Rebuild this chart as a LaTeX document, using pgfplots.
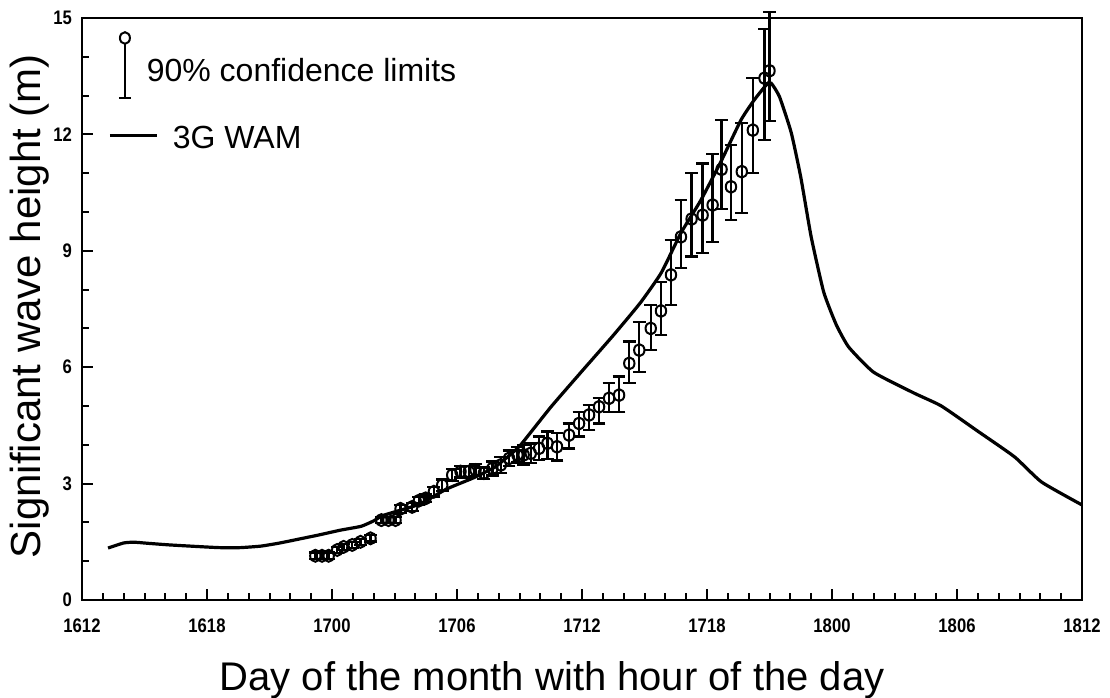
\documentclass[border=0pt]{standalone}
\usepackage{fontspec}
\setmainfont{Liberation Sans}
\newfontfamily\tickfont[FakeStretch=0.85]{Liberation Sans}
\usepackage{pgfplots}
\pgfplotsset{compat=1.18}
\usepackage{pgfplotstable}

% observed wave heights with 90% confidence limits (hours after 16th 12:00)
\pgfplotstableread{
h v ep em
11.20 1.14 0.08 0.08
11.52 1.14 0.08 0.08
11.84 1.14 0.08 0.08
12.25 1.29 0.08 0.08
12.56 1.37 0.08 0.08
12.97 1.42 0.08 0.08
13.37 1.50 0.08 0.08
13.85 1.59 0.08 0.08
14.37 2.06 0.08 0.08
14.71 2.06 0.08 0.08
15.05 2.06 0.08 0.08
15.29 2.35 0.10 0.10
15.85 2.40 0.10 0.10
16.17 2.56 0.10 0.10
16.49 2.62 0.10 0.10
16.89 2.79 0.12 0.12
17.29 2.96 0.15 0.15
17.77 3.22 0.15 0.15
18.17 3.31 0.15 0.15
18.57 3.31 0.15 0.15
18.89 3.35 0.15 0.15
19.29 3.27 0.15 0.15
19.70 3.39 0.18 0.18
20.10 3.48 0.20 0.20
20.50 3.65 0.20 0.20
20.90 3.74 0.20 0.20
21.20 3.74 0.25 0.25
21.54 3.78 0.25 0.25
21.94 3.91 0.30 0.30
22.34 4.04 0.30 0.40
22.80 3.95 0.35 0.35
23.38 4.25 0.30 0.34
23.86 4.55 0.30 0.34
24.34 4.77 0.26 0.39
24.82 4.98 0.22 0.43
25.30 5.20 0.39 0.35
25.78 5.28 0.48 0.43
26.27 6.10 0.56 0.51
26.75 6.44 0.73 0.56
27.30 7.00 0.60 0.56
27.79 7.45 0.75 0.62
28.27 8.38 0.90 0.78
28.75 9.36 0.95 0.81
29.26 9.82 1.18 0.97
29.79 9.92 1.33 0.98
30.27 10.18 1.32 0.95
30.70 11.10 1.27 1.03
31.15 10.65 1.08 0.86
31.67 11.04 1.25 1.07
32.20 12.11 1.34 1.11
32.76 13.45 1.26 1.59
33.00 13.64 1.52 1.29
}\obsdata

% 3G WAM hindcast
\pgfplotstableread{
h v
1.25 1.34
2.0 1.47
2.5 1.49
3.2 1.46
4.2 1.42
5.5 1.38
6.6 1.35
7.6 1.35
8.6 1.39
9.5 1.47
10.5 1.58
11.4 1.68
12.4 1.80
13.4 1.90
14.0 2.04
14.4 2.17
15.0 2.27
16.2 2.47
17.5 2.86
18.8 3.15
19.8 3.42
20.5 3.72
21.06 4.00
22.5 4.97
24.0 5.90
25.5 6.82
26.8 7.66
27.8 8.43
28.75 9.46
29.7 10.30
30.67 11.30
31.63 12.37
32.27 12.89
32.84 13.27
33.08 13.32
33.48 12.97
34.04 12.05
34.5 10.90
35.0 9.36
35.6 7.94
36.2 7.10
36.8 6.52
38.0 5.87
39.95 5.33
41.25 5.00
43.0 4.35
44.76 3.69
46.06 3.04
48.0 2.45
}\wamdata

\begin{document}
\begin{tikzpicture}
\begin{axis}[
  name=ax,
  scale only axis,
  width=500pt, height=291pt,
  xmin=0, xmax=48, ymin=0, ymax=15,
  xtick={0,6,...,48},
  xticklabels={1612,1618,1700,1706,1712,1718,1800,1806,1812},
  minor x tick num=5,
  ytick={0,3,...,15},
  minor y tick num=2,
  tick align=inside,
  xtick pos=bottom, ytick pos=left,
  major tick length=5.5pt, minor tick length=3.5pt,
  every tick/.style={black, line width=1pt},
  axis line style={line width=1.3pt},
  /pgf/number format/assume math mode=true,
  tick label style={font=\tickfont\bfseries\fontsize{9.8}{11}\selectfont},
  xticklabel style={yshift=-6pt},
  yticklabel style={xshift=-1.5pt},
  xlabel={Day of the month with hour of the day},
  ylabel={Significant wave height (m)},
  every axis x label/.style={at={(axis description cs:0.47,0)}, yshift=-40pt,
    anchor=center, font=\fontsize{20}{24}\selectfont},
  every axis y label/.style={at={(axis description cs:0,0.505)}, xshift=-26pt,
    rotate=90, anchor=center, font=\fontsize{21}{25}\selectfont},
  clip=false,
  legend cell align=left,
  legend style={draw=none, fill=none, inner sep=0pt, outer sep=0pt,
    at={(axis cs:1.72,14.66)}, anchor=north west,
    row sep=13.5pt, column sep=7.4pt, nodes={inner sep=0pt},
    font=\fontsize{16}{19}\selectfont},
]
\addplot[black, only marks, mark=o, mark size=2.6pt,
  mark options={line width=1pt, yscale=1.15},
  legend image code/.code={
    \draw[black, line width=1.1pt] (0pt,-13.5pt) -- (0pt,13.8pt);
    \draw[black, line width=1.1pt] (-3pt,-13.5pt) -- (3pt,-13.5pt);
    \draw[black, line width=1pt] (0pt,16.5pt) ellipse [x radius=2.5pt, y radius=2.9pt];
  },
  error bars/.cd, y dir=both, y explicit,
  error bar style={line width=1.2pt},
  error mark options={rotate=90, line width=1.2pt, mark size=3.2pt}]
  table[x=h, y=v, y error plus=ep, y error minus=em] {\obsdata};
\addlegendentry{90\% confidence limits}
\addplot[black, line width=1.6pt, smooth, tension=0.3,
  legend image code/.code={
    \draw[black, line width=1.6pt, overlay] (-7.5pt,1.5pt) -- (16pt,1.5pt);
  }]
  table[x=h, y=v] {\wamdata};
\addlegendentry{\hspace*{13pt}3G WAM}
\end{axis}
\pgfresetboundingbox
\path ([shift={(-41pt,-48.5pt)}]ax.south west) rectangle ([shift={(14pt,9pt)}]ax.north east);
\end{tikzpicture}
\end{document}
